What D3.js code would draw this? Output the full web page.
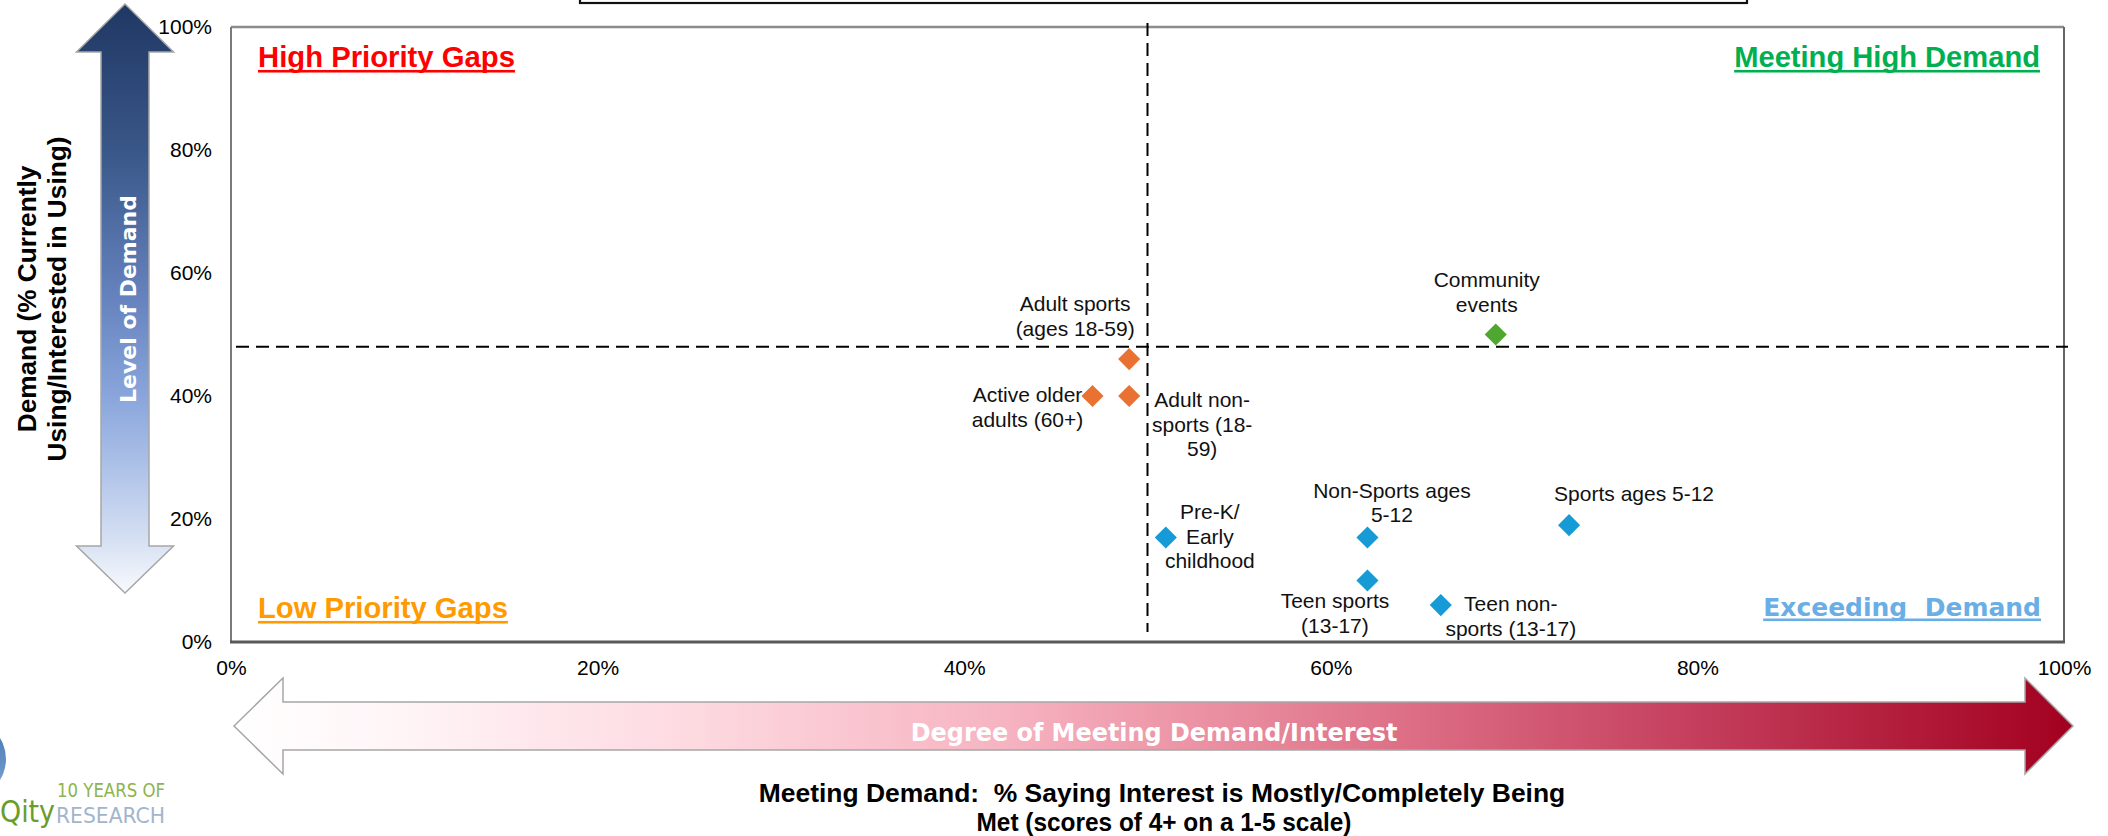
<!DOCTYPE html>
<html>
<head>
<meta charset="utf-8">
<script src="https://cdn.jsdelivr.net/npm/d3@7"></script>
<style>
  html, body { margin: 0; padding: 0; background: #ffffff; }
  svg { display: block; }
</style>
</head>
<body>
<svg id="chart" width="2108" height="836"></svg>
<script>
// ---------------- DATA ----------------
const categories = [
  "Adult sports (ages 18-59)",
  "Active older adults (60+)",
  "Adult non-sports (18-59)",
  "Community events",
  "Pre-K/ Early childhood",
  "Non-Sports ages 5-12",
  "Sports ages 5-12",
  "Teen sports (13-17)",
  "Teen non-sports (13-17)"
];
// % saying interest is mostly/completely being met (x)
const meetingDemand = [49, 47, 49, 69, 51, 62, 73, 62, 66];
// % currently using / interested in using (y)
const levelOfDemand = [46, 40, 40, 50, 17, 17, 19, 10, 6];
const groups = ["Adults", "Adults", "Adults", "Community", "Youth", "Youth", "Youth", "Youth", "Youth"];
const labelLines = [
  ["Adult sports", "(ages 18-59)"],
  ["Active older", "adults (60+)"],
  ["Adult non-", "sports (18-", "59)"],
  ["Community", "events"],
  ["Pre-K/", "Early", "childhood"],
  ["Non-Sports ages", "5-12"],
  ["Sports ages 5-12"],
  ["Teen sports", "(13-17)"],
  ["Teen non-", "sports (13-17)"]
];
const xTicks = [0, 20, 40, 60, 80, 100];
const yTicks = [0, 20, 40, 60, 80, 100];
const dividerX = 50;
const dividerY = 48;
const quadrantNames = ["High Priority Gaps", "Meeting High Demand", "Low Priority Gaps", "Exceeding  Demand"];
const yTitleLines = ["Demand (% Currently", "Using/Interested in Using)"];
const xTitleLines = ["Meeting Demand:  % Saying Interest is Mostly/Completely Being", "Met (scores of 4+ on a 1-5 scale)"];
const yArrowText = "Level of Demand";
const xArrowText = "Degree of Meeting Demand/Interest";
const logoTexts = ["10 YEARS OF", "Qity", "RESEARCH"];

// ---------------- LAYOUT / STYLE ----------------
const plot = { left: 231, right: 2064, top: 27, bottom: 642 };
const ARIAL = "'Liberation Sans', Arial, Helvetica, sans-serif";
const TAHOMA = "'DejaVu Sans', Verdana, Tahoma, sans-serif";
const groupColor = d3.scaleOrdinal().domain(["Adults", "Community", "Youth"]).range(["#E97132", "#4EA72E", "#179BD7"]);
// label offsets relative to the marker: [dx of text centre, dy of first baseline]
const labelOffsets = [[-54, -48], [-65, 6], [73, 11], [-9, -47.5], [44, -18], [24.5, -39.5], [65, -24], [-32.5, 27.5], [70, 6]];
const labelLineH = 24.5;

const svg = d3.select("#chart");
const defs = svg.append("defs");

const x = d3.scaleLinear().domain([0, 100]).range([plot.left, plot.right]);
const y = d3.scaleLinear().domain([0, 100]).range([plot.bottom, plot.top]);

function fitWidth(sel, target) {
  const w = sel.node().getComputedTextLength();
  const fs = parseFloat(sel.attr("font-size"));
  const nfs = fs * target / w;
  sel.attr("font-size", nfs);
  return nfs;
}

// ---------- title box (cut off at the top) ----------
svg.append("rect")
  .attr("x", 580).attr("y", -10).attr("width", 1167).attr("height", 13)
  .attr("fill", "none").attr("stroke", "#111").attr("stroke-width", 2.2);

// ---------- vertical gradient arrow ----------
const vg = defs.append("linearGradient").attr("id", "vgrad")
  .attr("gradientUnits", "userSpaceOnUse").attr("x1", 0).attr("y1", 4).attr("x2", 0).attr("y2", 593);
[[0, "#1F3763"], [0.25, "#3A5789"], [0.5, "#6683BF"], [0.67, "#8AA6DC"], [0.8, "#B2C5E9"], [0.91, "#D6E0F3"], [1, "#F8FAFD"]]
  .forEach(([o, c]) => vg.append("stop").attr("offset", o).attr("stop-color", c));
{
  const cx = 125, t = 4, hb1 = 52, hb2 = 546, b = 593, sh = 24, hh = 48.5;
  const p = d3.path();
  p.moveTo(cx, t); p.lineTo(cx + hh, hb1); p.lineTo(cx + sh, hb1); p.lineTo(cx + sh, hb2); p.lineTo(cx + hh, hb2);
  p.lineTo(cx, b); p.lineTo(cx - hh, hb2); p.lineTo(cx - sh, hb2); p.lineTo(cx - sh, hb1); p.lineTo(cx - hh, hb1); p.closePath();
  svg.append("path").attr("d", p.toString()).attr("fill", "url(#vgrad)").attr("stroke", "#A6A6A6").attr("stroke-width", 1.5);
  const t1 = svg.append("text").attr("transform", "translate(136,299) rotate(-90)")
    .attr("text-anchor", "middle").attr("font-family", TAHOMA).attr("font-weight", "bold")
    .attr("font-size", 26).attr("fill", "#ffffff").text(yArrowText);
  fitWidth(t1, 208);
}

// ---------- horizontal gradient arrow ----------
const hg = defs.append("linearGradient").attr("id", "hgrad")
  .attr("gradientUnits", "userSpaceOnUse").attr("x1", 234).attr("y1", 0).attr("x2", 2073).attr("y2", 0);
[[0, "#FFFFFF"], [0.08, "#FFF6F8"], [0.25, "#FDD9E0"], [0.42, "#F6B3C1"], [0.52, "#EC93A5"], [0.65, "#DB6B82"], [0.8, "#C33D5B"], [1, "#A3001F"]]
  .forEach(([o, c]) => hg.append("stop").attr("offset", o).attr("stop-color", c));
{
  const cy = 726, tl = 234, hl = 283, hr = 2025, tr = 2073, sh = 24, hh = 48;
  const p = d3.path();
  p.moveTo(tl, cy); p.lineTo(hl, cy - hh); p.lineTo(hl, cy - sh); p.lineTo(hr, cy - sh); p.lineTo(hr, cy - hh);
  p.lineTo(tr, cy); p.lineTo(hr, cy + hh); p.lineTo(hr, cy + sh); p.lineTo(hl, cy + sh); p.lineTo(hl, cy + hh); p.closePath();
  svg.append("path").attr("d", p.toString()).attr("fill", "url(#hgrad)").attr("stroke", "#A6A6A6").attr("stroke-width", 1.5);
  const t2 = svg.append("text").attr("x", 1154).attr("y", 741)
    .attr("text-anchor", "middle").attr("font-family", TAHOMA).attr("font-weight", "bold")
    .attr("font-size", 26).attr("fill", "#ffffff").text(xArrowText);
  fitWidth(t2, 487);
}

// ---------- plot frame ----------
const frame = svg.append("g");
frame.append("line").attr("x1", plot.left).attr("x2", plot.right).attr("y1", plot.top).attr("y2", plot.top)
  .attr("stroke", "#8C8C8C").attr("stroke-width", 2.5);
frame.append("line").attr("x1", plot.right).attr("x2", plot.right).attr("y1", plot.top).attr("y2", plot.bottom)
  .attr("stroke", "#666666").attr("stroke-width", 2);
frame.append("line").attr("x1", plot.left).attr("x2", plot.left).attr("y1", plot.top).attr("y2", plot.bottom)
  .attr("stroke", "#7A7A7A").attr("stroke-width", 2);
frame.append("line").attr("x1", plot.left - 1).attr("x2", plot.right + 1).attr("y1", plot.bottom).attr("y2", plot.bottom)
  .attr("stroke", "#595959").attr("stroke-width", 3);

// ---------- axes ----------
const yAxis = svg.append("g").attr("transform", `translate(${plot.left},0)`)
  .call(d3.axisLeft(y).tickValues(yTicks).tickSize(0).tickPadding(19).tickFormat(d => d + "%"));
yAxis.select(".domain").remove();
yAxis.selectAll("text").attr("font-family", ARIAL).attr("font-size", 21).attr("fill", "#000");

const xAxis = svg.append("g").attr("transform", `translate(0,${plot.bottom})`)
  .call(d3.axisBottom(x).tickValues(xTicks).tickSize(0).tickPadding(18).tickFormat(d => d + "%"));
xAxis.select(".domain").remove();
xAxis.selectAll("text").attr("font-family", ARIAL).attr("font-size", 21).attr("fill", "#000");

// ---------- divider dashed lines ----------
svg.append("line")
  .attr("x1", x(0) + 5).attr("x2", x(100) + 4).attr("y1", y(dividerY)).attr("y2", y(dividerY))
  .attr("stroke", "#000").attr("stroke-width", 2).attr("stroke-dasharray", "13,7");
svg.append("line")
  .attr("x1", x(dividerX)).attr("x2", x(dividerX)).attr("y1", y(100) - 4).attr("y2", y(0) - 10)
  .attr("stroke", "#000").attr("stroke-width", 2).attr("stroke-dasharray", "13,7");

// ---------- quadrant labels ----------
const quadStyle = [
  { x: 258, y: 67, anchor: "start", color: "#FF0000", font: ARIAL, w: 257 },
  { x: 2040, y: 67, anchor: "end", color: "#00B050", font: ARIAL, w: 306 },
  { x: 258, y: 618, anchor: "start", color: "#FF9A00", font: ARIAL, w: 250 },
  { x: 2041, y: 616, anchor: "end", color: "#6AAEE6", font: TAHOMA, w: 278 }
];
quadrantNames.forEach((name, i) => {
  const s = quadStyle[i];
  const t = svg.append("text").attr("x", s.x).attr("y", s.y).attr("text-anchor", s.anchor)
    .attr("font-family", s.font).attr("font-weight", "bold").attr("font-size", 29)
    .attr("fill", s.color).style("white-space", "pre").text(name);
  const fs = fitWidth(t, s.w);
  const bb = t.node().getBBox();
  svg.append("rect").attr("x", bb.x).attr("y", s.y + fs * 0.1).attr("width", bb.width).attr("height", 2.6).attr("fill", s.color);
});

// ---------- points ----------
const pts = categories.map((c, i) => ({ c, mx: meetingDemand[i], ld: levelOfDemand[i], g: groups[i], lines: labelLines[i], off: labelOffsets[i] }));
const diamond = d3.symbol().type(d3.symbolSquare).size(245);
svg.append("g").selectAll("path").data(pts).join("path")
  .attr("d", diamond)
  .attr("transform", d => `translate(${x(d.mx)},${y(d.ld)}) rotate(45)`)
  .attr("fill", d => groupColor(d.g));

const lab = svg.append("g").attr("font-family", ARIAL).attr("font-size", 21).attr("fill", "#111");
pts.forEach(d => {
  const t = lab.append("text").attr("text-anchor", "middle");
  d.lines.forEach((ln, k) => {
    t.append("tspan").attr("x", x(d.mx) + d.off[0]).attr("y", y(d.ld) + d.off[1] + k * labelLineH).text(ln);
  });
});

// ---------- axis titles ----------
{
  const g = svg.append("g").attr("font-family", ARIAL).attr("font-weight", "bold").attr("fill", "#000");
  const l2 = g.append("text").attr("transform", "translate(66,299) rotate(-90)").attr("text-anchor", "middle")
    .attr("font-size", 26).text(yTitleLines[1]);
  const fs = fitWidth(l2, 325);
  g.append("text").attr("transform", "translate(36,299) rotate(-90)").attr("text-anchor", "middle")
    .attr("font-size", fs).text(yTitleLines[0]);

  const x1 = g.append("text").attr("x", 1162).attr("y", 802).attr("text-anchor", "middle")
    .attr("font-size", 26).style("white-space", "pre").text(xTitleLines[0]);
  const fs2 = fitWidth(x1, 807);
  g.append("text").attr("x", 1164).attr("y", 831).attr("text-anchor", "middle")
    .attr("font-size", fs2).attr("textLength", 375).attr("lengthAdjust", "spacingAndGlyphs").text(xTitleLines[1]);
}

// ---------- logo (bottom-left) ----------
{
  const lg = defs.append("linearGradient").attr("id", "logograd").attr("x1", 0).attr("y1", 0).attr("x2", 0).attr("y2", 1);
  lg.append("stop").attr("offset", 0).attr("stop-color", "#3F73B3");
  lg.append("stop").attr("offset", 0.7).attr("stop-color", "#6E97C8");
  lg.append("stop").attr("offset", 1).attr("stop-color", "#C9D7E8");
  svg.append("circle").attr("cx", -34).attr("cy", 759).attr("r", 40).attr("fill", "url(#logograd)");
  const fam = "'Liberation Sans Narrow', 'DejaVu Sans Condensed', 'Liberation Sans', sans-serif";
  svg.append("text").attr("font-family", fam).attr("x", 57).attr("y", 797).attr("font-size", 19).attr("fill", "#8DB44F")
    .attr("textLength", 108).attr("lengthAdjust", "spacingAndGlyphs").text(logoTexts[0]);
  svg.append("text").attr("font-family", fam).attr("x", 0).attr("y", 822).attr("font-size", 31).attr("fill", "#6A9C2C")
    .attr("textLength", 55).attr("lengthAdjust", "spacingAndGlyphs").text(logoTexts[1]);
  svg.append("text").attr("font-family", fam).attr("x", 56).attr("y", 823).attr("font-size", 21).attr("fill", "#A3B5CB")
    .attr("textLength", 109).attr("lengthAdjust", "spacingAndGlyphs").text(logoTexts[2]);
}
</script>
</body>
</html>
